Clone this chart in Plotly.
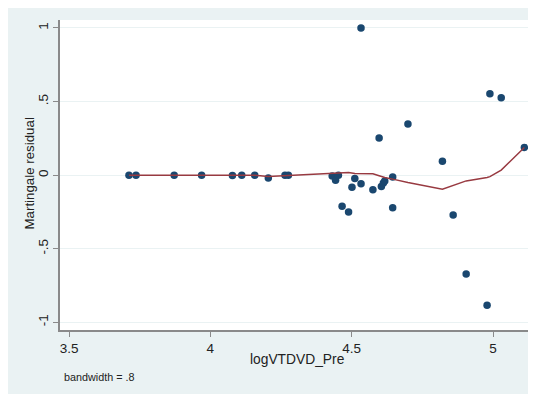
import plotly.graph_objects as go

# Martingale residuals vs logVTDVD_Pre
x_vals = [3.712, 3.737, 3.872, 3.969, 4.078, 4.111, 4.157, 4.205, 4.264, 4.276,
          4.431, 4.443, 4.453, 4.466, 4.489, 4.501, 4.511, 4.533, 4.533, 4.575,
          4.597, 4.605, 4.612, 4.617, 4.645, 4.645, 4.699, 4.821, 4.859, 4.905,
          4.979, 4.989, 5.029, 5.111]
resid = [0.0, 0.0, 0.0, 0.0, -0.003, 0.0, 0.0, -0.02, 0.0, 0.0,
         -0.005, -0.034, 0.0, -0.211, -0.25, -0.082, -0.023, 1.0, -0.059, -0.1,
         0.252, -0.077, -0.054, -0.039, -0.012, -0.222, 0.347, 0.095, -0.27, -0.671,
         -0.884, 0.553, 0.526, 0.188]

# lowess smooth (bandwidth = .8)
lowess_x = [3.712, 3.737, 3.872, 3.969, 4.078, 4.111, 4.157, 4.205, 4.264, 4.276,
            4.431, 4.466, 4.489, 4.511, 4.533, 4.575, 4.597, 4.605, 4.617, 4.645,
            4.699, 4.821, 4.859, 4.905, 4.979, 4.989, 5.029, 5.111]
lowess_y = [0.0, 0.0, 0.0, 0.0, 0.0, 0.0, 0.0, -0.01, -0.004, 0.0,
            0.014, 0.018, 0.018, 0.011, 0.01, 0.009, -0.004, -0.01, -0.016, -0.027,
            -0.05, -0.095, -0.07, -0.039, -0.016, -0.01, 0.034, 0.188]

x_ticks = [3.5, 4, 4.5, 5]
x_tick_labels = ["3.5", "4", "4.5", "5"]
y_ticks = [-1, -0.5, 0, 0.5, 1]
y_tick_labels = ["-1", "-.5", "0", ".5", "1"]

NAVY = "#1a476f"
MAROON = "#983a41"
BG = "#eaf2f3"
AXIS = "#8a8a8a"
FONT = "Liberation Sans, Arial, sans-serif"

OFF = 8  # page body margin
W, H = 528, 386
L, R, T, B = 52, 2, 12, 64
pw, ph = W - L - R, H - T - B

def px_x(p):  # page pixel -> paper fraction
    return (p - OFF - L) / pw

def px_y(p):
    return (H - B - (p - OFF)) / ph

fig = go.Figure()
fig.add_trace(go.Scatter(x=x_vals, y=resid, mode="markers",
                         marker=dict(color=NAVY, size=7.5, line=dict(width=0)),
                         showlegend=False, cliponaxis=False))
fig.add_trace(go.Scatter(x=lowess_x, y=lowess_y, mode="lines",
                         line=dict(color=MAROON, width=1.5),
                         showlegend=False))

fig.update_layout(
    width=W, height=H,
    margin=dict(l=L, r=R, t=T, b=B),
    paper_bgcolor=BG, plot_bgcolor="white",
    font=dict(family=FONT, color="#222222", size=13),
    xaxis=dict(range=[3.468, 5.145], tickvals=x_ticks, ticktext=x_tick_labels,
               showgrid=False, zeroline=False, showline=True, linecolor=AXIS,
               linewidth=1.5, ticks="outside", ticklen=5, tickcolor=AXIS,
               tickwidth=1.2, tickfont=dict(size=13.5, color="#222222")),
    yaxis=dict(range=[-1.052, 1.054], tickvals=y_ticks, ticktext=y_tick_labels,
               showgrid=True, gridcolor=BG, gridwidth=1.2, zeroline=False,
               showline=True, linecolor=AXIS, linewidth=1.5, ticks="outside",
               ticklen=5, tickcolor=AXIS, tickwidth=1.2, tickangle=-90,
               tickfont=dict(size=13.5, color="#222222")),
    annotations=[
        dict(text="Martingale residual", xref="paper", yref="paper",
             x=px_x(28.5), y=px_y(174), textangle=-90, showarrow=False,
             font=dict(size=13.3, color="#222222"), xanchor="center", yanchor="middle"),
        dict(text="logVTDVD_Pre", xref="paper", yref="paper",
             x=px_x(297), y=px_y(359), showarrow=False,
             font=dict(size=13.8, color="#222222"), xanchor="center", yanchor="middle"),
        dict(text="bandwidth = .8", xref="paper", yref="paper",
             x=px_x(62), y=px_y(377), showarrow=False,
             font=dict(size=10.8, color="#222222"), xanchor="left", yanchor="middle"),
    ],
)

fig.write_html("out.html")
